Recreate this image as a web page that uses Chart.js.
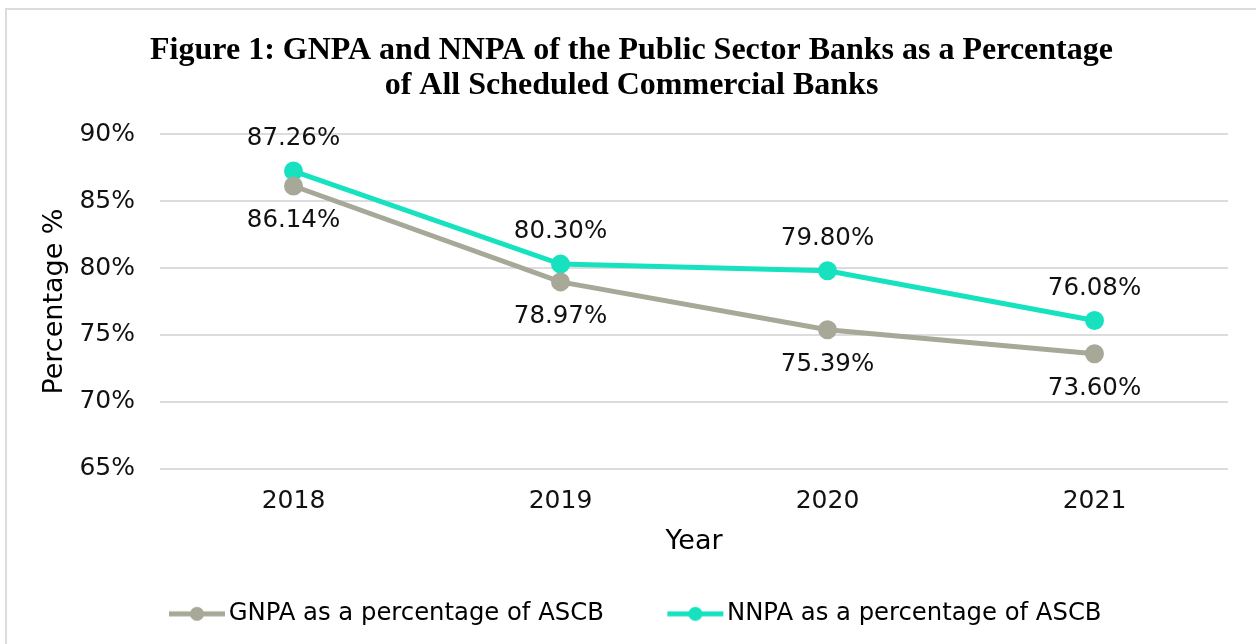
<!DOCTYPE html>
<html>
<head>
<meta charset="utf-8">
<script src="https://cdn.jsdelivr.net/npm/chart.js@4.4.0/dist/chart.umd.min.js"></script>
<style>
  html, body { margin: 0; padding: 0; background: #fff; }
  #frame { position: absolute; left: 5px; top: 8px; width: 1270px; height: 660px; border: 2px solid #dcdcdc; box-sizing: border-box; }
  #wrap { position: absolute; left: 0; top: 0; width: 1256px; height: 644px; }
</style>
</head>
<body>
<div id="frame"></div>
<div id="wrap"><canvas id="chart" width="1256" height="644"></canvas></div>
<script>
// Figure 1: GNPA / NNPA of public sector banks as share of all SCBs
const years = ['2018', '2019', '2020', '2021'];
const gnpa = [86.14, 78.97, 75.39, 73.60];
const nnpa = [87.26, 80.30, 79.80, 76.08];
const yTicks = [65, 70, 75, 80, 85, 90];

const GNPA_COLOR = '#a8a898';
const NNPA_COLOR = '#17e2c0';
const FONT = "'DejaVu Sans', Verdana, sans-serif";
const LEGEND_BOX = 101;

// legend marker: short line with a dot, drawn on the right of a wider image
// so that it sits just before the text and leaves a gap on its left
function legendMarker(color) {
  const c = document.createElement('canvas');
  c.width = 120; c.height = 16;
  const ctx = c.getContext('2d');
  ctx.strokeStyle = color;
  ctx.lineWidth = 5;
  ctx.beginPath(); ctx.moveTo(63, 8); ctx.lineTo(119, 8); ctx.stroke();
  ctx.fillStyle = color;
  ctx.beginPath(); ctx.arc(91, 8, 7, 0, Math.PI * 2); ctx.fill();
  return c;
}

// values above NNPA points, below GNPA points
const pointLabels = {
  id: 'pointLabels',
  afterDatasetsDraw(chart) {
    const ctx = chart.ctx;
    ctx.save();
    ctx.font = '24.5px ' + FONT;
    ctx.fillStyle = '#111';
    ctx.textAlign = 'center';
    ctx.textBaseline = 'middle';
    chart.data.datasets.forEach((ds, i) => {
      const meta = chart.getDatasetMeta(i);
      const off = ds.labelOffset;
      meta.data.forEach((pt, j) => {
        ctx.fillText(ds.data[j].toFixed(2) + '%', pt.x, pt.y + off);
      });
    });
    ctx.restore();
  }
};

// nudge the legend row so it lines up with the original
const legendNudge = {
  id: 'legendNudge',
  afterLayout(chart) {
    const lg = chart.legend;
    if (!lg) return;
    lg.left -= 23; lg.right -= 23;
    lg.top += 4; lg.bottom += 4;
  }
};

new Chart(document.getElementById('chart'), {
  type: 'line',
  data: {
    labels: years,
    datasets: [
      {
        label: 'GNPA as a percentage of ASCB',
        data: gnpa,
        borderColor: GNPA_COLOR,
        backgroundColor: GNPA_COLOR,
        borderWidth: 5,
        pointRadius: 7,
        pointHoverRadius: 7,
        tension: 0,
        labelOffset: 35
      },
      {
        label: 'NNPA as a percentage of ASCB',
        data: nnpa,
        borderColor: NNPA_COLOR,
        backgroundColor: NNPA_COLOR,
        borderWidth: 5,
        pointRadius: 7,
        pointHoverRadius: 7,
        tension: 0,
        labelOffset: -32
      }
    ]
  },
  options: {
    responsive: false,
    animation: false,
    layout: { padding: { left: 35, right: 28, top: 0, bottom: 12 } },
    plugins: {
      tooltip: { enabled: false },
      title: {
        display: true,
        text: ['Figure 1: GNPA and NNPA of the Public Sector Banks as a Percentage',
               'of All Scheduled Commercial Banks'],
        color: '#000',
        font: { family: "'Liberation Serif', 'Times New Roman', serif", size: 32, weight: 'bold', lineHeight: 1.1 },
        padding: { top: 33, bottom: 31 }
      },
      legend: {
        position: 'bottom',
        labels: {
          color: '#111',
          font: { family: FONT, size: 24.3 },
          padding: 10,
          usePointStyle: true,
          pointStyleWidth: LEGEND_BOX,
          generateLabels(chart) {
            return chart.data.datasets.map((ds, i) => ({
              text: ds.label,
              datasetIndex: i,
              pointStyle: legendMarker(ds.borderColor),
              fillStyle: ds.borderColor,
              strokeStyle: ds.borderColor,
              lineWidth: 0,
              hidden: false
            }));
          }
        }
      }
    },
    scales: {
      x: {
        offset: true,
        grid: { display: false, drawTicks: false },
        border: { display: false },
        ticks: { color: '#111', font: { family: FONT, size: 25 }, padding: 18 },
        title: { display: true, text: 'Year', color: '#000', font: { family: FONT, size: 27 }, padding: { top: 0, bottom: 30 } },
        afterFit(scale) { scale.height = 119; }
      },
      y: {
        min: 65,
        max: 90,
        afterBuildTicks(scale) { scale.ticks = yTicks.map(v => ({ value: v })); },
        grid: { color: '#dcdcdc', lineWidth: 2, drawTicks: false },
        border: { display: false },
        ticks: {
          color: '#111',
          font: { family: FONT, size: 25 },
          padding: 25,
          callback: v => v + '%'
        },
        title: { display: true, text: 'Percentage %', color: '#000', font: { family: FONT, size: 27 }, padding: { top: 4, bottom: 0 } },
        afterFit(scale) { scale.width = 125; }
      }
    }
  },
  plugins: [pointLabels, legendNudge]
});
</script>
</body>
</html>
